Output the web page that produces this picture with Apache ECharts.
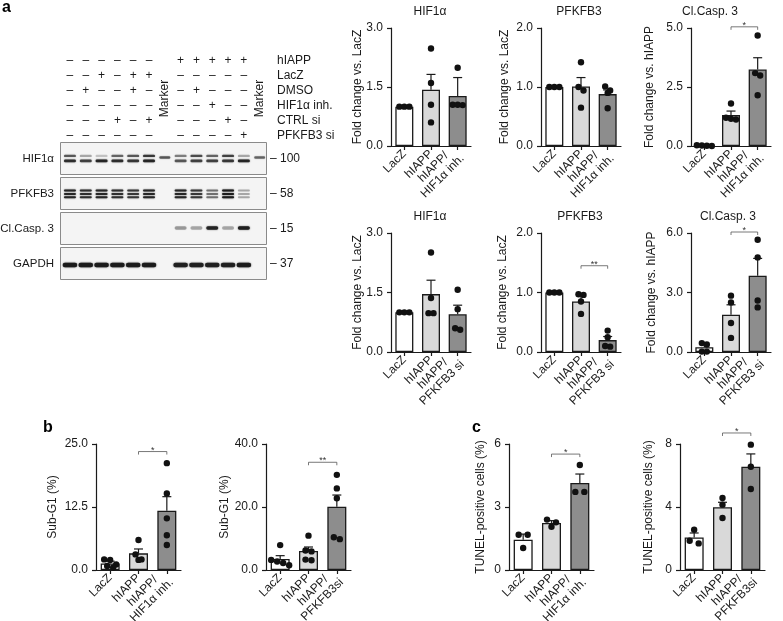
<!DOCTYPE html>
<html><head><meta charset="utf-8">
<script src="https://cdn.jsdelivr.net/npm/echarts@6/dist/echarts.min.js"></script>
<style>html,body{margin:0;padding:0;background:#fff}#c{width:783px;height:621px}</style>
</head><body><div id="c"></div><script>
// ================= DATA =================
const catsHifInh = ['LacZ', 'hIAPP', 'hIAPP/\nHIF1α inh.'];
const catsPfkSi  = ['LacZ', 'hIAPP', 'hIAPP/\nPFKFB3 si'];
const catsPfkSi2 = ['LacZ', 'hIAPP', 'hIAPP/\nPFKFB3si'];

// a, top row (HIF1α inhibitor)
const aInhHif1aMean = [1.0, 1.43, 1.27];
const aInhHif1aSemTop = [1.0, 1.82, 1.74];
const aInhHif1aDots = [[1.0, 1.0, 1.0], [2.48, 1.6, 1.05, 0.6], [1.99, 1.05, 1.05, 1.04]];
const aInhHif1aTicks = ['0.0', '1.5', '3.0'];

const aInhPfkfb3Mean = [1.0, 1.01, 0.88];
const aInhPfkfb3SemTop = [1.0, 1.16, 0.95];
const aInhPfkfb3Dots = [[1.0, 1.0, 1.0], [1.42, 1.0, 0.94, 0.65], [1.01, 0.94, 0.9, 0.64]];
const aInhPfkfb3Ticks = ['0.0', '1.0', '2.0'];

const aInhCasp3Mean = [0.02, 1.31, 3.24];
const aInhCasp3SemTop = [0.03, 1.48, 3.74];
const aInhCasp3Dots = [[0.03, 0.01, 0.02, 0.0], [1.8, 1.2, 1.15, 1.12], [4.68, 3.09, 2.99, 2.15]];
const aInhCasp3Ticks = ['0.0', '2.5', '5.0'];
const aInhCasp3Sig = [1, 2, 5.05, '*'];

// a, bottom row (PFKFB3 si)
const aSiHif1aMean = [1.0, 1.46, 0.95];
const aSiHif1aSemTop = [1.0, 1.81, 1.18];
const aSiHif1aDots = [[1.0, 1.0, 1.0], [2.51, 1.36, 0.98, 0.98], [1.57, 1.08, 0.56, 0.6]];
const aSiHif1aTicks = ['0.0', '1.5', '3.0'];

const aSiPfkfb3Mean = [1.0, 0.85, 0.20];
const aSiPfkfb3SemTop = [1.0, 0.96, 0.26];
const aSiPfkfb3Dots = [[1.0, 1.0, 1.0], [0.97, 0.96, 0.85, 0.64], [0.36, 0.25, 0.09, 0.1]];
const aSiPfkfb3Ticks = ['0.0', '1.0', '2.0'];
const aSiPfkfb3Sig = [1, 2, 1.45, '**'];

const aSiCasp3Mean = [0.24, 1.88, 3.85];
const aSiCasp3SemTop = [0.37, 2.38, 4.72];
const aSiCasp3Dots = [[0.45, 0.38, 0.02, 0.02], [2.84, 2.5, 1.46, 0.71], [5.66, 4.77, 2.6, 2.25]];
const aSiCasp3Ticks = ['0.0', '3.0', '6.0'];
const aSiCasp3Sig = [1, 2, 6.05, '*'];

// b, Sub-G1
const bInhMean = [1.3, 3.3, 11.77];
const bInhSemTop = [1.75, 4.17, 14.55];
const bInhDots = [[2.1, 2.0, 1.1, 0.8, 0.5], [5.95, 3.1, 2.1, 2.0], [21.2, 15.2, 10.25, 6.9, 4.96]];
const bInhTicks = ['0.0', '12.5', '25.0'];
const bInhSig = [1, 2, 23.5, '*'];

const bSiMean = [3.5, 6.03, 20.1];
const bSiSemTop = [4.55, 7.3, 23.8];
const bSiDots = [[7.9, 3.2, 2.7, 2.2, 1.5], [10.9, 6.2, 5.9, 3.3, 3.1], [30.2, 25.9, 22.8, 10.4, 9.8]];
const bSiTicks = ['0.0', '20.0', '40.0'];
const bSiSig = [1, 2, 34.2, '**'];

// c, TUNEL
const cInhMean = [1.44, 2.24, 4.14];
const cInhSemTop = [1.71, 2.35, 4.57];
const cInhDots = [[1.68, 1.68, 1.05], [2.40, 2.27, 2.06], [5.0, 3.72, 3.72]];
const cInhTicks = ['0', '3', '6'];
const cInhSig = [1, 2, 5.52, '*'];

const cSiMean = [2.07, 3.98, 6.56];
const cSiSemTop = [2.35, 4.3, 7.37];
const cSiDots = [[2.56, 1.86, 1.69], [4.57, 4.15, 3.3], [7.96, 6.56, 5.14]];
const cSiTicks = ['0', '4', '8'];
const cSiSig = [1, 2, 8.7, '*'];

// western blot
const blotTreatments = ['hIAPP', 'LacZ', 'DMSO', 'HIF1α inh.', 'CTRL si', 'PFKFB3 si'];
// 1 = +, 0 = –, -1 = marker lane
const blotSigns = [
  [0, 0, 0, 0, 0, 0, -1, 1, 1, 1, 1, 1, -1],
  [0, 0, 1, 0, 1, 1, -1, 0, 0, 0, 0, 0, -1],
  [0, 1, 0, 0, 1, 0, -1, 0, 1, 0, 0, 0, -1],
  [0, 0, 0, 0, 0, 0, -1, 0, 0, 1, 0, 0, -1],
  [0, 0, 0, 1, 0, 1, -1, 0, 0, 0, 1, 0, -1],
  [0, 0, 0, 0, 0, 0, -1, 0, 0, 0, 0, 1, -1]
];
const blotProteins = ['HIF1α', 'PFKFB3', 'Cl.Casp. 3', 'GAPDH'];
const blotKda = ['100', '58', '15', '37'];
const hif1aUpper  = [0.6, 0.3, 0.2, 0.55, 0.6, 0.75, 0, 0.45, 0.65, 0.55, 0.7, 0.3, 0];
const hif1aLower  = [0.8, 0.7, 0.85, 0.8, 0.75, 0.85, 0, 0.6, 0.7, 0.7, 0.75, 0.85, 0];
const hif1aMarker = [0, 0, 0, 0, 0, 0, 0.6, 0, 0, 0, 0, 0, 0.55];
const pfkfb3Band  = [0.85, 0.8, 0.85, 0.8, 0.75, 0.85, 0, 0.85, 0.75, 0.5, 0.95, 0.3, 0];
const casp3Band   = [0, 0, 0, 0, 0, 0, 0, 0.35, 0.3, 0.85, 0.3, 0.9, 0];
const gapdhBand   = [0.95, 0.95, 0.95, 0.95, 0.95, 0.95, 0, 0.9, 0.9, 0.9, 0.9, 0.95, 0];

// ================= LAYOUT / STYLE =================
const FONT = "'Liberation Sans', Arial, Helvetica, sans-serif";
const INK = '#1a1a1a';
const FILLS = ['#ffffff', '#d9d9d9', '#8d8d8d'];

const A = {width: 80, barW: 18, spread: 5, tol: 5};
const B = {width: 85, barW: 19, spread: 6, tol: 5.5};
const C = {width: 85, barW: 19, spread: 9, tol: 5.5};
const chartDefs = [
  {cats: catsHifInh, mean: aInhHif1aMean, sem: aInhHif1aSemTop, dots: aInhHif1aDots, ticks: aInhHif1aTicks, sig: null,
   title: 'HIF1α', yName: 'Fold change vs. LacZ', L: Object.assign({left: 391, top: 28, height: 118, gap: 27, tx: 430, ty: 12}, A)},
  {cats: catsHifInh, mean: aInhPfkfb3Mean, sem: aInhPfkfb3SemTop, dots: aInhPfkfb3Dots, ticks: aInhPfkfb3Ticks, sig: null,
   title: 'PFKFB3', yName: 'Fold change vs. LacZ', L: Object.assign({left: 541, top: 28, height: 118, gap: 30, tx: 579, ty: 12}, A)},
  {cats: catsHifInh, mean: aInhCasp3Mean, sem: aInhCasp3SemTop, dots: aInhCasp3Dots, ticks: aInhCasp3Ticks, sig: aInhCasp3Sig,
   title: 'Cl.Casp. 3', yName: 'Fold change vs. hIAPP', L: Object.assign({left: 691, top: 28, height: 118, gap: 35, tx: 710, ty: 12}, A)},
  {cats: catsPfkSi, mean: aSiHif1aMean, sem: aSiHif1aSemTop, dots: aSiHif1aDots, ticks: aSiHif1aTicks, sig: null,
   title: 'HIF1α', yName: 'Fold change vs. LacZ', L: Object.assign({left: 391, top: 233, height: 119, gap: 27, tx: 430, ty: 217}, A)},
  {cats: catsPfkSi, mean: aSiPfkfb3Mean, sem: aSiPfkfb3SemTop, dots: aSiPfkfb3Dots, ticks: aSiPfkfb3Ticks, sig: aSiPfkfb3Sig,
   title: 'PFKFB3', yName: 'Fold change vs. LacZ', L: Object.assign({left: 541, top: 233, height: 119, gap: 32, tx: 580, ty: 217}, A)},
  {cats: catsPfkSi, mean: aSiCasp3Mean, sem: aSiCasp3SemTop, dots: aSiCasp3Dots, ticks: aSiCasp3Ticks, sig: aSiCasp3Sig,
   title: 'Cl.Casp. 3', yName: 'Fold change vs. hIAPP', L: Object.assign({left: 691, top: 233, height: 119, gap: 33, tx: 728, ty: 217}, A)},
  {cats: catsHifInh, mean: bInhMean, sem: bInhSemTop, dots: bInhDots, ticks: bInhTicks, sig: bInhSig,
   title: '', yName: 'Sub-G1 (%)', L: Object.assign({left: 96, top: 444, height: 126, gap: 37}, B)},
  {cats: catsPfkSi2, mean: bSiMean, sem: bSiSemTop, dots: bSiDots, ticks: bSiTicks, sig: bSiSig,
   title: '', yName: 'Sub-G1 (%)', L: Object.assign({left: 266, top: 444, height: 126, gap: 35}, B)},
  {cats: catsHifInh, mean: cInhMean, sem: cInhSemTop, dots: cInhDots, ticks: cInhTicks, sig: cInhSig,
   title: '', yName: 'TUNEL-positive cells (%)', L: Object.assign({left: 509, top: 444, height: 126, gap: 22}, C)},
  {cats: catsPfkSi2, mean: cSiMean, sem: cSiSemTop, dots: cSiDots, ticks: cSiTicks, sig: cSiSig,
   title: '', yName: 'TUNEL-positive cells (%)', L: Object.assign({left: 680, top: 444, height: 126, gap: 25}, C)}
];

function dotOffsets(vals, api, cat, spread, tol) {
  const pts = vals.map((v, k) => ({k, y: api.coord([cat, v])[1]}));
  const sorted = pts.slice().sort((a, b) => a.y - b.y || a.k - b.k);
  const off = new Array(vals.length).fill(0);
  let row = [];
  const flush = () => { row.forEach((p, i) => { off[p.k] = (i - (row.length - 1) / 2) * spread; }); row = []; };
  sorted.forEach(p => { if (row.length && p.y - row[0].y > tol) flush(); row.push(p); });
  flush();
  return off;
}

const option = {
  animation: false, backgroundColor: '#ffffff',
  textStyle: {fontFamily: FONT},
  grid: [], xAxis: [], yAxis: [], series: [], graphic: []
};

chartDefs.forEach((d, gi) => {
  const L = d.L;
  const max = parseFloat(d.ticks[d.ticks.length - 1]);
  const interval = max / (d.ticks.length - 1);
  option.grid.push({left: L.left, top: L.top, width: L.width, height: L.height, containLabel: false, outerBoundsMode: 'none'});
  option.xAxis.push({
    type: 'category', gridIndex: gi, data: d.cats, boundaryGap: true,
    axisLine: {show: true, lineStyle: {color: INK, width: 1.2}},
    axisTick: {show: true, alignWithLabel: true, length: 4, lineStyle: {color: INK, width: 1.2}},
    axisLabel: {
      rotate: 45, interval: 0, margin: 6, color: INK, fontSize: 12, fontFamily: FONT, hideOverlap: false,
      formatter: v => v.split('\n').map(s => '{c|' + s + '}').join('\n'),
      rich: {c: {align: 'center', fontSize: 12, fontFamily: FONT, color: INK, lineHeight: 13}}
    },
    splitLine: {show: false}
  });
  option.yAxis.push({
    type: 'value', gridIndex: gi, min: 0, max: max, interval: interval,
    name: d.yName, nameLocation: 'middle', nameGap: L.gap, nameRotate: 90, nameMoveOverlap: false,
    nameTextStyle: {fontSize: 12, color: INK, fontFamily: FONT},
    axisLine: {show: true, lineStyle: {color: INK, width: 1.2}},
    axisTick: {show: true, length: 4, lineStyle: {color: INK, width: 1.2}},
    axisLabel: {margin: 8, fontSize: 12, color: INK, fontFamily: FONT,
      formatter: v => { const t = d.ticks[Math.round(v / interval)]; return t === undefined ? '' : t; }},
    splitLine: {show: false}
  });
  option.series.push({
    type: 'bar', xAxisIndex: gi, yAxisIndex: gi, barWidth: L.barW, z: 2,
    itemStyle: {borderColor: INK, borderWidth: 1.3},
    data: d.mean.map((v, i) => ({value: v, itemStyle: {color: FILLS[i], borderColor: INK, borderWidth: 1.3}}))
  });
  option.series.push({
    type: 'custom', xAxisIndex: gi, yAxisIndex: gi, z: 3, clip: false,
    data: d.mean.map((m, i) => [i, m, d.sem[i]]),
    renderItem: (params, api) => {
      const i = api.value(0), m = api.value(1), s = api.value(2);
      if (s <= m + 1e-9) return null;
      const p0 = api.coord([i, m]), p1 = api.coord([i, s]);
      const st = {stroke: INK, lineWidth: 1.2};
      return {type: 'group', children: [
        {type: 'line', shape: {x1: p0[0], y1: p0[1], x2: p1[0], y2: p1[1]}, style: st},
        {type: 'line', shape: {x1: p1[0] - 4.5, y1: p1[1], x2: p1[0] + 4.5, y2: p1[1]}, style: st}
      ]};
    }
  });
  const dotData = [];
  d.dots.forEach((arr, c) => arr.forEach((v, k) => dotData.push([c, v, k])));
  option.series.push({
    type: 'custom', xAxisIndex: gi, yAxisIndex: gi, z: 4, clip: false,
    data: dotData,
    renderItem: (params, api) => {
      const c = api.value(0), k = api.value(2);
      const vals = d.dots[c];
      const offs = dotOffsets(vals, api, c, L.spread, L.tol);
      const p = api.coord([c, vals[k]]);
      return {type: 'circle', shape: {cx: p[0] + offs[k], cy: p[1], r: 3.2}, style: {fill: '#111111'}};
    }
  });
  if (d.sig) {
    option.series.push({
      type: 'custom', xAxisIndex: gi, yAxisIndex: gi, z: 4, clip: false,
      data: [[d.sig[0], d.sig[2], d.sig[1]]],
      renderItem: (params, api) => {
        const pa = api.coord([api.value(0), api.value(1)]);
        const pb = api.coord([api.value(2), api.value(1)]);
        return {type: 'group', children: [
          {type: 'polyline', shape: {points: [[pa[0], pa[1] + 3], [pa[0], pa[1]], [pb[0], pb[1]], [pb[0], pb[1] + 3]]},
           style: {stroke: '#555555', lineWidth: 0.8, fill: null}},
          {type: 'text', x: (pa[0] + pb[0]) / 2, y: pa[1] - 1.5,
           style: {text: d.sig[3], align: 'center', verticalAlign: 'middle', textAlign: 'center', textVerticalAlign: 'middle',
                   fontSize: 9, fontFamily: FONT, fill: '#333333'}}
        ]};
      }
    });
  }
  if (d.title) {
    option.graphic.push({type: 'text', x: L.tx, y: L.ty,
      style: {text: d.title, align: 'center', verticalAlign: 'middle', textAlign: 'center', textVerticalAlign: 'middle',
              fontSize: 12, fontFamily: FONT, fill: INK}});
  }
});

// ---- blot: panels grid (index 10) ----
const laneMin = -0.63, laneMax = 12.4;
option.grid.push({left: 60, top: 141, width: 206, height: 140, containLabel: false, outerBoundsMode: 'none'});
option.xAxis.push({type: 'value', gridIndex: 10, min: laneMin, max: laneMax, show: false});
option.yAxis.push({type: 'category', gridIndex: 10, data: blotProteins, inverse: true,
  axisLine: {show: false}, axisTick: {show: false}, splitLine: {show: false},
  axisLabel: {interval: 0, margin: 6, fontSize: 11.5, color: INK, fontFamily: FONT}});
option.yAxis.push({type: 'category', gridIndex: 10, data: blotKda, inverse: true, position: 'right',
  axisLine: {show: false}, axisTick: {show: false}, splitLine: {show: false},
  axisLabel: {interval: 0, margin: 4, fontSize: 12, color: INK, fontFamily: FONT, align: 'left', formatter: v => '– ' + v}});
option.series.push({
  type: 'custom', xAxisIndex: 10, yAxisIndex: 10, z: 1, clip: false,
  data: blotProteins.map((p, i) => [0, i]),
  renderItem: (params, api) => {
    const cs = params.coordSys;
    const cy = api.coord([0, api.value(1)])[1];
    const h = api.size([0, 1])[1];
    return {type: 'rect', shape: {x: cs.x + 0.5, y: cy - h / 2 + 1.5, width: cs.width, height: h - 3},
      style: {fill: '#f4f4f4', stroke: '#8a8a8a', lineWidth: 1}};
  }
});
const BAND_KINDS = [
  {p: 0, dy: -2.6, h: 2.4, w: 12},   // HIF1α upper
  {p: 0, dy: 2.4, h: 2.8, w: 12},    // HIF1α lower
  {p: 0, dy: -1.0, h: 2.6, w: 11},   // HIF1α marker
  {p: 1, dy: -3.0, h: 2.0, w: 12},   // PFKFB3 1
  {p: 1, dy: 0.4, h: 2.0, w: 12},    // PFKFB3 2
  {p: 1, dy: 3.8, h: 2.0, w: 12},    // PFKFB3 3
  {p: 2, dy: -0.5, h: 3.4, w: 12},   // Cl.Casp.3
  {p: 3, dy: 1.5, h: 4.4, w: 14.5}   // GAPDH
];
const bandSources = [hif1aUpper, hif1aLower, hif1aMarker, pfkfb3Band, pfkfb3Band, pfkfb3Band, casp3Band, gapdhBand];
const bandData = [];
bandSources.forEach((arr, kind) => arr.forEach((v, lane) => { if (v > 0) bandData.push([lane, BAND_KINDS[kind].p, v, kind]); }));
option.series.push({
  type: 'custom', xAxisIndex: 10, yAxisIndex: 10, z: 2, clip: false,
  data: bandData,
  renderItem: (params, api) => {
    const k = BAND_KINDS[api.value(3)];
    const p = api.coord([api.value(0), api.value(1)]);
    const a = api.value(2);
    const col = 'rgba(25,25,25,' + a + ')';
    return {type: 'rect', shape: {x: p[0] - k.w / 2, y: p[1] + k.dy - k.h / 2, width: k.w, height: k.h, r: k.h / 2},
      style: {fill: col, shadowBlur: 1.5, shadowColor: col}};
  }
});

// ---- blot: treatment grid (index 11) ----
option.grid.push({left: 60, top: 53.5, width: 206, height: 90, containLabel: false, outerBoundsMode: 'none'});
option.xAxis.push({type: 'value', gridIndex: 11, min: laneMin, max: laneMax, show: false});
option.yAxis.push({type: 'category', gridIndex: 11, data: blotTreatments, inverse: true, position: 'right',
  axisLine: {show: false}, axisTick: {show: false}, splitLine: {show: false},
  axisLabel: {interval: 0, margin: 11, fontSize: 12, color: INK, fontFamily: FONT, align: 'left', hideOverlap: false}});
const signData = [];
blotSigns.forEach((row, r) => row.forEach((s, lane) => { if (s >= 0) signData.push([lane, r, s]); }));
option.series.push({
  type: 'custom', xAxisIndex: 11, yAxisIndex: 12, z: 2, clip: false,
  data: signData,
  renderItem: (params, api) => {
    const p = api.coord([api.value(0), api.value(1)]);
    return {type: 'text', x: p[0], y: p[1],
      style: {text: api.value(2) ? '+' : '–', align: 'center', verticalAlign: 'middle', textAlign: 'center', textVerticalAlign: 'middle',
              fontSize: 12, fontFamily: FONT, fill: INK}};
  }
});
const markerLanes = [];
blotSigns[0].forEach((s, lane) => { if (s < 0) markerLanes.push([lane, 1, 4]); });
option.series.push({
  type: 'custom', xAxisIndex: 11, yAxisIndex: 12, z: 2, clip: false,
  data: markerLanes,
  renderItem: (params, api) => {
    const p1 = api.coord([api.value(0), api.value(1)]);
    const p2 = api.coord([api.value(0), api.value(2)]);
    return {type: 'text', x: p1[0], y: (p1[1] + p2[1]) / 2, rotation: Math.PI / 2,
      style: {text: 'Marker', align: 'center', verticalAlign: 'middle', textAlign: 'center', textVerticalAlign: 'middle',
              fontSize: 12, fontFamily: FONT, fill: INK}};
  }
});

// panel letters
[['a', 2, 8], ['b', 43, 428], ['c', 472, 428]].forEach(t => {
  option.graphic.push({type: 'text', x: t[1], y: t[2],
    style: {text: t[0], align: 'left', verticalAlign: 'middle', textAlign: 'left', textVerticalAlign: 'middle',
            fontSize: 16, fontWeight: 'bold', fontFamily: FONT, fill: '#000'}});
});

const chart = echarts.init(document.getElementById('c'), null, {renderer: 'canvas'});
chart.setOption(option);
</script></body></html>
